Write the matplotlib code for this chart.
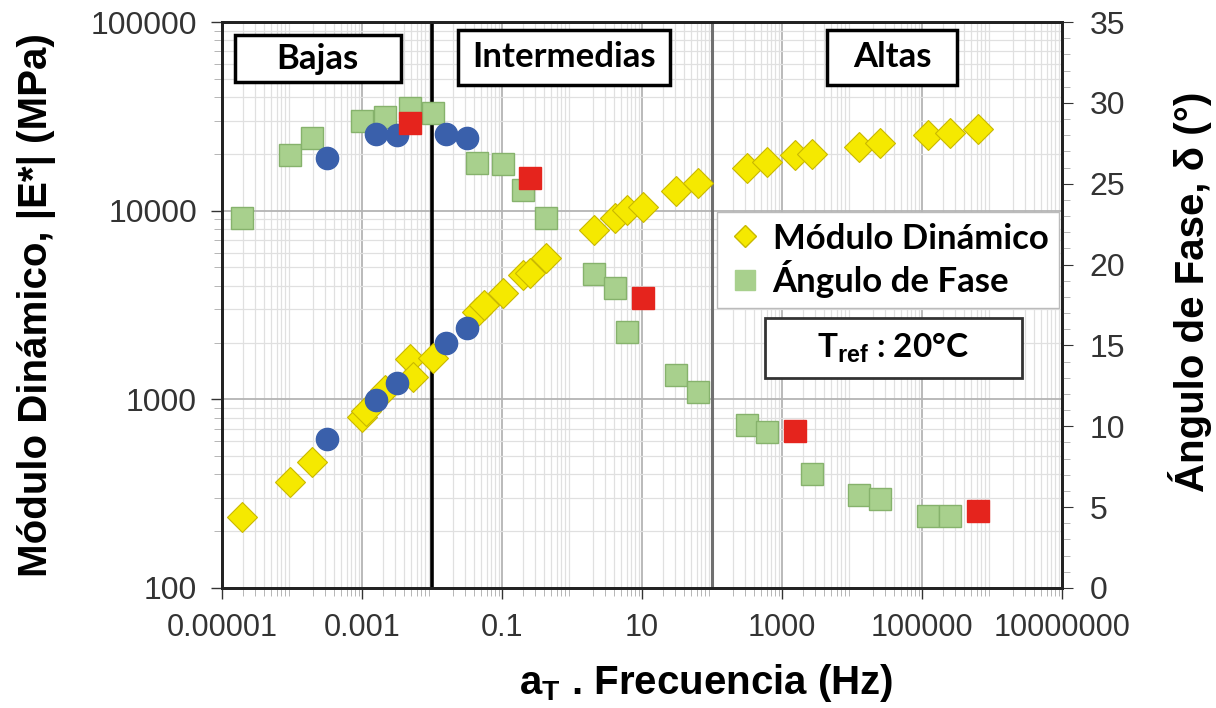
import numpy as np
import matplotlib.pyplot as plt
from matplotlib.patches import Rectangle
from matplotlib.lines import Line2D
from matplotlib.ticker import LogLocator, FixedLocator, MultipleLocator, NullFormatter

plt.rcParams['font.family'] = ['Liberation Sans', 'DejaVu Sans']
plt.rcParams['mathtext.fontset'] = 'custom'
plt.rcParams['mathtext.bf'] = 'Liberation Sans:bold'
plt.rcParams['mathtext.rm'] = 'Liberation Sans'

# ---- data ----
# modulo dinamico (eje izq.)
mod_freq = [1.93e-5, 9.3e-5, 1.93e-4, 1.0e-3, 1.14e-3, 2.13e-3, 4.85e-3, 5.35e-3, 0.0103,
            0.044, 0.0553, 0.103, 0.2, 0.251, 0.425, 2.06, 4.11, 6.1, 10.3, 30.6, 63,
            316, 611, 1535, 2683, 12590, 25100, 1.22e5, 2.51e5, 6.31e5]
mod_val = [238, 365, 466, 805, 867, 1120, 1637, 1312, 1657, 2904, 3164, 3658, 4558, 4670,
           5606, 7890, 9140, 10070, 10450, 12700, 14000, 16800, 18100, 19700, 20000,
           21700, 22800, 25200, 25800, 27000]

# angulo de fase (eje der.)
fase_freq = [1.93e-5, 9.3e-5, 1.93e-4, 1.0e-3, 2.13e-3, 4.85e-3, 0.0103, 0.044, 0.103,
             0.2, 0.425, 2.06, 4.11, 6.1, 30.6, 63, 316, 611, 2683, 12590, 25100,
             1.22e5, 2.51e5]
fase_val = [22.9, 26.8, 27.8, 28.9, 29.1, 29.7, 29.4, 26.3, 26.2, 24.6, 22.9, 19.4, 18.55,
            15.8, 13.2, 12.1, 10.1, 9.65, 7.05, 5.75, 5.5, 4.45, 4.45]

# puntos azules (modulo y fase)
azul_freq = [3.16e-4, 1.58e-3, 3.16e-3, 0.0158, 0.0316]
azul_mod = [617, 991, 1219, 1986, 2387]
azul_fase = [26.6, 28.1, 28.0, 28.1, 27.8]

# puntos rojos (fase)
rojo_freq = [4.85e-3, 0.251, 10.3, 1535, 6.31e5]
rojo_fase = [28.75, 25.35, 17.93, 9.71, 4.76]

xticks = [1e-5, 1e-3, 1e-1, 1e1, 1e3, 1e5, 1e7]
xtick_labels = ['0.00001', '0.001', '0.1', '10', '1000', '100000', '10000000']
yticks = [100, 1000, 10000, 100000]
ytick_labels = ['100', '1000', '10000', '100000']

fig = plt.figure(figsize=(12.16, 7.08), dpi=100)
ax = fig.add_axes([0.1826, 0.1695, 0.6908, 0.7994])
ax2 = ax.twinx()

ax.set_xscale('log')
ax.set_yscale('log')
ax.set_xlim(1e-5, 1e7)
ax.set_ylim(100, 100000)
ax2.set_ylim(0, 35)

ax.xaxis.set_major_locator(FixedLocator(xticks))
ax.set_xticklabels(xtick_labels)
ax.xaxis.set_minor_locator(LogLocator(base=10, subs=np.arange(2, 10), numticks=100))
ax.xaxis.set_minor_formatter(NullFormatter())
ax.yaxis.set_major_locator(FixedLocator(yticks))
ax.set_yticklabels(ytick_labels)
ax.yaxis.set_minor_locator(LogLocator(base=10, subs=np.arange(2, 10), numticks=100))
ax.yaxis.set_minor_formatter(NullFormatter())
ax2.yaxis.set_major_locator(MultipleLocator(5))
ax2.yaxis.set_minor_locator(MultipleLocator(1))

# grid
ax.grid(True, which='major', axis='both', color='#b4b4b4', lw=1.3)
ax.grid(True, which='minor', axis='both', color='#e0e0e0', lw=0.9)
ax.set_axisbelow(True)

tick_col = '#333333'
ax.tick_params(axis='both', which='major', labelsize=22, colors=tick_col, length=8,
               width=1.0, direction='out', pad=10)
ax.tick_params(axis='y', which='major', labelsize=23)
ax.tick_params(axis='both', which='minor', length=6, width=0.6, colors='#aaaaaa')
ax2.tick_params(axis='y', which='major', labelsize=23, colors=tick_col, length=8, pad=12)
ax2.tick_params(axis='y', which='minor', length=6, width=0.6, colors='#aaaaaa')

for a in (ax, ax2):
    for s in a.spines.values():
        s.set_color('#222222')
        s.set_linewidth(2.0)

# lineas que separan zonas
ax.axvline(0.01, color='black', lw=2.6, zorder=2)
ax.axvline(100, color='#707070', lw=2.2, zorder=2)

# series
ax.plot(mod_freq, mod_val, 'D', ms=15, mfc='#f5e900', mec='#c9b800', mew=0.8,
        ls='none', label='Módulo Dinámico', zorder=3)
ax.plot(azul_freq, azul_mod, 'o', ms=16, mfc='#3a60ab', mec='#3a60ab', ls='none', zorder=4)
ax2.plot(fase_freq, fase_val, 's', ms=16, mfc='#a8d08d', mec='#86b26c', mew=1.0,
         ls='none', label='Ángulo de Fase', zorder=3)
ax2.plot(azul_freq, azul_fase, 'o', ms=16, mfc='#3a60ab', mec='#3a60ab', ls='none', zorder=4)
ax2.plot(rojo_freq, rojo_fase, 's', ms=16, mfc='#e5241d', mec='#e5241d', ls='none', zorder=5)

# cajas de zonas
box_font = dict(family=['Lato', 'DejaVu Sans'], fontweight='bold', fontsize=25)
cajas = [('Bajas', 0.0155, 0.894, 0.197, 0.083),
         ('Intermedias', 0.281, 0.889, 0.252, 0.097),
         ('Altas', 0.720, 0.889, 0.155, 0.097)]
for txt, x0, y0, w, h in cajas:
    ax2.add_patch(Rectangle((x0, y0), w, h, transform=ax2.transAxes, fc='white',
                            ec='black', lw=2.5, zorder=6))
    ax2.text(x0 + w / 2, y0 + h / 2, txt, transform=ax2.transAxes, ha='center',
             va='center', zorder=7, **box_font)

ax2.add_patch(Rectangle((0.646, 0.371), 0.306, 0.106, transform=ax2.transAxes,
                        fc='white', ec='#333333', lw=2.0, zorder=6))
ax2.text(0.799, 0.424, r'T$_{\mathbf{ref}}$ : 20°C', transform=ax2.transAxes,
         ha='center', va='center', zorder=7, family=['Lato', 'DejaVu Sans'],
         fontweight='bold', fontsize=24)

# leyenda
h1 = Line2D([], [], marker='D', ls='none', ms=11, mfc='#f5e900', mec='#c9b800')
h2 = Line2D([], [], marker='s', ls='none', ms=14, mfc='#a8d08d', mec='#a8d08d')
leg = ax2.legend([h1, h2], ['Módulo Dinámico', 'Ángulo de Fase'], loc='upper right',
                 bbox_to_anchor=(0.996, 0.664), fancybox=False, framealpha=1,
                 edgecolor='#bbbbbb', handletextpad=0.3, borderpad=0.3,
                 labelspacing=0.15, handlelength=1.0, borderaxespad=0.0,
                 prop=dict(family=['Lato', 'DejaVu Sans'], weight='bold', size=25))
leg.set_zorder(8)

# etiquetas de ejes
fig.text(0.0304, 0.569, 'Módulo Dinámico, |E*| (MPa)', rotation=90, ha='center',
         va='center', fontsize=29, fontweight='bold')
fig.text(0.5806, 0.0353, r'$\mathbf{a_T}$ . Frecuencia (Hz)', ha='center', va='center',
         fontsize=29, fontweight='bold')
fig.text(0.9786, 0.5876, 'Ángulo de Fase, δ (°)', rotation=90, ha='center', va='center',
         fontsize=29, fontweight='bold')

fig.savefig('out.png', dpi=100)
